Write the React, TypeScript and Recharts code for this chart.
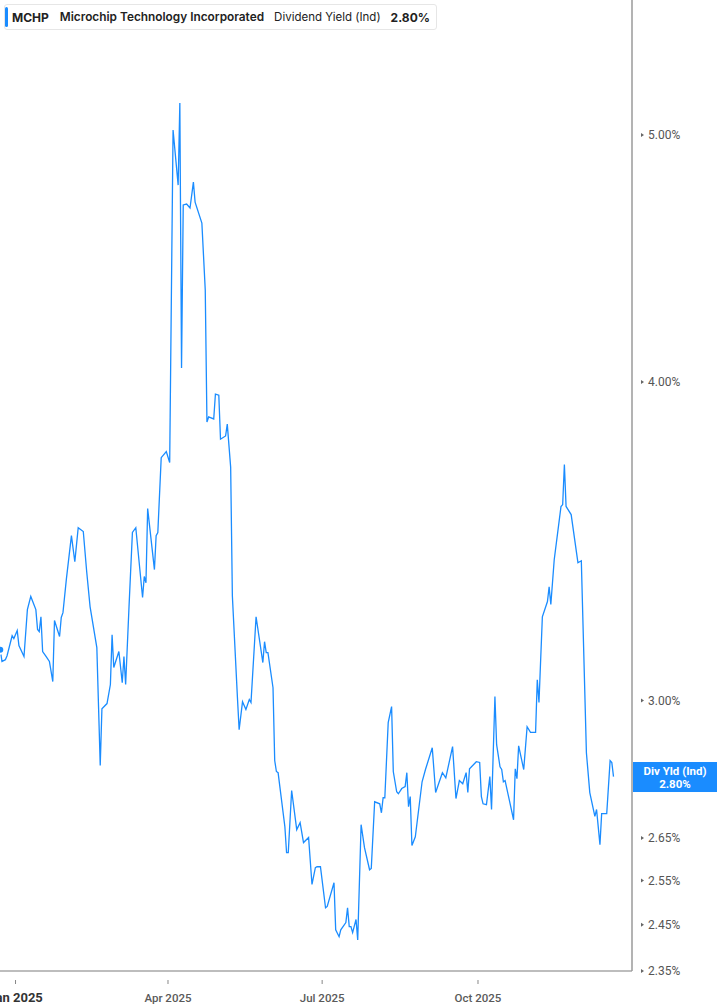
import React from "react";
import { LineChart, Line, XAxis, YAxis, ReferenceLine } from "recharts";

const dates: string[] = [
  "2024-12-23", "2024-12-24", "2024-12-26", "2024-12-27", "2024-12-30", "2024-12-31", "2025-01-02", "2025-01-03", "2025-01-06", "2025-01-08",
  "2025-01-10", "2025-01-13", "2025-01-14", "2025-01-15", "2025-01-16", "2025-01-17", "2025-01-19", "2025-01-21", "2025-01-23", "2025-01-24",
  "2025-01-27", "2025-01-28", "2025-01-29", "2025-01-31", "2025-02-03", "2025-02-05", "2025-02-07", "2025-02-10", "2025-02-12", "2025-02-14",
  "2025-02-18", "2025-02-19", "2025-02-20", "2025-02-21", "2025-02-24", "2025-02-26", "2025-02-27", "2025-02-28", "2025-03-03", "2025-03-05",
  "2025-03-06", "2025-03-07", "2025-03-09", "2025-03-11", "2025-03-13", "2025-03-15", "2025-03-17", "2025-03-18", "2025-03-19", "2025-03-20",
  "2025-03-24", "2025-03-25", "2025-03-26", "2025-03-28", "2025-03-31", "2025-04-02", "2025-04-04", "2025-04-07", "2025-04-08", "2025-04-09",
  "2025-04-10", "2025-04-12", "2025-04-14", "2025-04-16", "2025-04-17", "2025-04-21", "2025-04-23", "2025-04-24", "2025-04-25", "2025-04-28",
  "2025-04-29", "2025-05-01", "2025-05-02", "2025-05-05", "2025-05-06", "2025-05-08", "2025-05-09", "2025-05-12", "2025-05-13", "2025-05-15",
  "2025-05-17", "2025-05-19", "2025-05-20", "2025-05-23", "2025-05-27", "2025-05-28", "2025-05-29", "2025-05-30", "2025-06-02", "2025-06-03",
  "2025-06-04", "2025-06-05", "2025-06-09", "2025-06-10", "2025-06-11", "2025-06-13", "2025-06-16", "2025-06-18", "2025-06-20", "2025-06-23",
  "2025-06-25", "2025-06-27", "2025-06-28", "2025-06-30", "2025-07-03", "2025-07-04", "2025-07-08", "2025-07-09", "2025-07-11", "2025-07-12",
  "2025-07-15", "2025-07-16", "2025-07-17", "2025-07-18", "2025-07-19", "2025-07-21", "2025-07-22", "2025-07-24", "2025-07-26", "2025-07-29",
  "2025-07-30", "2025-08-01", "2025-08-04", "2025-08-05", "2025-08-06", "2025-08-07", "2025-08-09", "2025-08-11", "2025-08-12", "2025-08-14",
  "2025-08-15", "2025-08-17", "2025-08-19", "2025-08-20", "2025-08-21", "2025-08-22", "2025-08-23", "2025-08-25", "2025-08-29", "2025-08-31",
  "2025-09-04", "2025-09-06", "2025-09-08", "2025-09-10", "2025-09-12", "2025-09-16", "2025-09-18", "2025-09-20", "2025-09-22", "2025-09-24",
  "2025-09-25", "2025-09-26", "2025-09-30", "2025-10-02", "2025-10-03", "2025-10-04", "2025-10-06", "2025-10-08", "2025-10-09", "2025-10-11",
  "2025-10-12", "2025-10-14", "2025-10-15", "2025-10-16", "2025-10-17", "2025-10-22", "2025-10-23", "2025-10-24", "2025-10-25", "2025-10-28",
  "2025-10-30", "2025-11-01", "2025-11-04", "2025-11-05", "2025-11-06", "2025-11-08", "2025-11-11", "2025-11-12", "2025-11-13", "2025-11-15",
  "2025-11-19", "2025-11-20", "2025-11-21", "2025-11-22", "2025-11-25", "2025-11-29", "2025-12-01", "2025-12-04", "2025-12-06", "2025-12-09",
  "2025-12-10", "2025-12-12", "2025-12-13", "2025-12-16", "2025-12-18", "2025-12-19", "2025-12-20",
];

const divYield: number[] = [
  3.141, 3.108, 3.113, 3.124, 3.181, 3.173, 3.196, 3.153, 3.122, 3.257,
  3.296, 3.257, 3.199, 3.193, 3.236, 3.136, 3.122, 3.108, 3.052, 3.225,
  3.179, 3.234, 3.248, 3.347, 3.482, 3.401, 3.507, 3.495, 3.371, 3.266,
  3.147, 2.984, 2.829, 2.978, 2.992, 3.044, 3.184, 3.091, 3.136, 3.049,
  3.122, 3.044, 3.266, 3.492, 3.507, 3.398, 3.293, 3.356, 3.337, 3.568,
  3.377, 3.482, 3.492, 3.736, 3.757, 3.72, 5.023, 4.779, 5.147, 4.051,
  4.694, 4.698, 4.681, 4.792, 4.706, 4.618, 4.347, 3.858, 3.876, 3.869,
  3.957, 3.953, 3.799, 3.81, 3.851, 3.704, 3.298, 3.008, 2.922, 2.997,
  2.976, 3.003, 2.995, 3.236, 3.105, 3.164, 3.133, 3.133, 3.035, 2.842,
  2.814, 2.811, 2.677, 2.615, 2.615, 2.766, 2.67, 2.687, 2.639, 2.651,
  2.541, 2.58, 2.582, 2.582, 2.488, 2.491, 2.545, 2.439, 2.424, 2.439,
  2.455, 2.488, 2.446, 2.446, 2.433, 2.462, 2.417, 2.682, 2.627, 2.575,
  2.578, 2.738, 2.733, 2.711, 2.748, 2.748, 2.941, 2.984, 2.814, 2.763,
  2.758, 2.771, 2.776, 2.811, 2.726, 2.751, 2.632, 2.653, 2.788, 2.819,
  2.875, 2.761, 2.786, 2.811, 2.798, 2.878, 2.746, 2.791, 2.783, 2.811,
  2.761, 2.821, 2.839, 2.837, 2.751, 2.733, 2.731, 2.801, 2.719, 3.011,
  2.883, 2.826, 2.819, 2.788, 2.791, 2.694, 2.821, 2.796, 2.88, 2.819,
  2.93, 2.915, 2.915, 3.057, 2.995, 3.236, 3.281, 3.325, 3.272, 3.407,
  3.575, 3.581, 3.713, 3.575, 3.549, 3.398, 3.404, 2.862, 2.761, 2.702,
  2.719, 2.634, 2.709, 2.709, 2.842, 2.837, 2.801,
];

const xTickDates: string[] = ["2025-01-01", "2025-04-01", "2025-07-01", "2025-10-01"];
const xTickLabels: string[] = ["Jan 2025", "Apr 2025", "Jul 2025", "Oct 2025"];
const yTicks: number[] = [2.35, 2.45, 2.55, 2.65, 3.0, 4.0, 5.0];

const ticker = "MCHP";
const company = "Microchip Technology Incorporated";
const metric = "Dividend Yield (Ind)";
const lastLabel = "Div Yld (Ind)";
const lastValue = 2.8;

const BLUE = "#1a8cff";

const toTime = (s: string) => Date.parse(s + "T00:00:00Z");

const data = dates.map((d, i) => ({ t: toTime(d), v: divYield[i] }));
const xTicks = xTickDates.map(toTime);
const xDomain = [Date.UTC(2024, 11, 22, 20), Date.UTC(2025, 11, 30, 22)];

const XTick = (props: any) => {
  const { x, y, payload } = props;
  const idx = xTicks.indexOf(payload.value);
  const label = idx >= 0 ? xTickLabels[idx] : "";
  const first = idx === 0;
  return (
    <g>
      <line x1={x} x2={x} y1={y + 1} y2={y + 5} stroke="#888" strokeWidth={1} />
      <text
        x={x}
        y={y + 23}
        textAnchor="middle"
        fontFamily="Roboto, 'Noto Sans', sans-serif"
        fontSize={first ? 13 : 11.5}
        fontWeight={first ? 700 : 500}
        fill={first ? "#333" : "#5a5a5a"}
      >
        {label}
      </text>
    </g>
  );
};

const YTick = (props: any) => {
  const { x, y, payload } = props;
  return (
    <g>
      <path d={`M${x + 1},${y - 2} L${x + 4},${y} L${x + 1},${y + 2} Z`} fill="#666" />
      <text
        x={x + 8}
        y={y + 4}
        textAnchor="start"
        fontFamily="Roboto, 'Noto Sans', sans-serif"
        fontSize={12}
        fill="#555"
      >
        {payload.value.toFixed(2) + "%"}
      </text>
    </g>
  );
};

const LastValueLabel = (props: any) => {
  const vb = props.viewBox || {};
  const x0 = (vb.x || 0) + (vb.width || 0) + 1;
  const cy = vb.y || 0;
  const w = 717 - x0;
  return (
    <g>
      <rect x={x0} y={cy - 15} width={w} height={30} fill={BLUE} />
      <text x={x0 + w / 2} y={cy - 2} textAnchor="middle" fontFamily="Roboto, 'Noto Sans', sans-serif" fontSize={11.5} fontWeight={700} fill="#fff">
        {lastLabel}
      </text>
      <text x={x0 + w / 2} y={cy + 11} textAnchor="middle" fontFamily="Roboto, 'Noto Sans', sans-serif" fontSize={11.5} fontWeight={700} fill="#fff">
        {lastValue.toFixed(2) + "%"}
      </text>
    </g>
  );
};

export default function App() {
  return (
    <div style={{ position: "absolute", left: 0, top: 0, width: 717, height: 1005, background: "#fff", overflow: "hidden" }}>
      <LineChart width={717} height={1005} data={data} margin={{ top: 0, right: 0, bottom: 0, left: 0 }}>
        <XAxis
          dataKey="t"
          type="number"
          scale="time"
          domain={xDomain}
          ticks={xTicks}
          allowDataOverflow
          height={34}
          axisLine={{ stroke: "#bdbdbd", strokeWidth: 2 }}
          tickLine={false}
          tick={<XTick />}
          interval={0}
        />
        <YAxis
          orientation="right"
          dataKey="v"
          scale="log"
          domain={[2.35, 5.6485]}
          allowDataOverflow
          ticks={yTicks}
          width={85}
          axisLine={{ stroke: "#9a9a9a", strokeWidth: 1.5 }}
          tickLine={false}
          tick={<YTick />}
          interval={0}
        />
        <ReferenceLine y={lastValue} stroke="none" label={<LastValueLabel />} ifOverflow="visible" />
        <Line
          type="linear"
          dataKey="v"
          stroke={BLUE}
          strokeWidth={1.3}
          dot={false}
          isAnimationActive={false}
        />
      </LineChart>
      <div
        style={{
          position: "absolute",
          left: 4,
          top: 4,
          height: 26,
          width: 433,
          boxSizing: "border-box",
          border: "1px solid #e6e6e6",
          borderRadius: 3,
          background: "#fff",
          display: "flex",
          alignItems: "center",
          fontFamily: "Inter, 'Noto Sans', sans-serif",
          fontSize: 12,
          color: "#222",
          whiteSpace: "nowrap",
        }}
      >
        <div style={{ width: 3, height: 20, background: BLUE, borderRadius: 2, marginLeft: 0, marginRight: 4 }} />
        <span style={{ fontWeight: 700, marginRight: 11 }}>{ticker}</span>
        <span style={{ fontWeight: 600, marginRight: 10, fontSize: 11.85 }}>{company}</span>
        <span style={{ fontWeight: 400, marginRight: 10, fontSize: 11.5 }}>{metric}</span>
        <span style={{ fontWeight: 700 }}>{lastValue.toFixed(2) + "%"}</span>
      </div>
    </div>
  );
}
